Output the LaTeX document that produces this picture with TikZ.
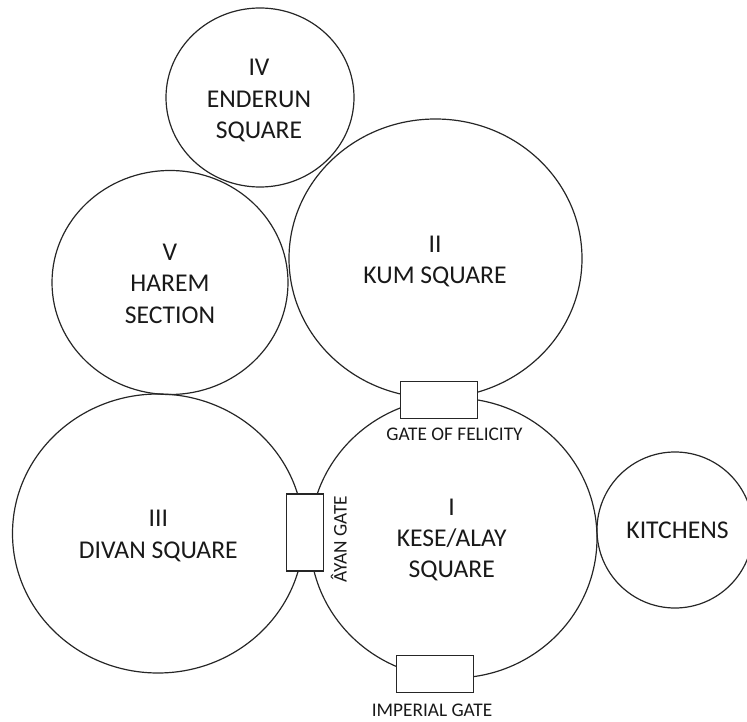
\documentclass[tikz,border=0pt]{standalone}
\usepackage{fontspec}
\setmainfont{Carlito}
\usetikzlibrary{shapes.geometric}
\begin{document}
\begin{tikzpicture}[x=1pt,y=-1pt,
  court/.style={ellipse,draw=black!85,line width=1.2pt,inner sep=0pt},
  courttext/.style={align=center,inner sep=0pt,text=black!90,font=\fontsize{25.6}{31.3}\selectfont},
  gatebox/.style={rectangle,draw=black!85,fill=white,line width=1.2pt,inner sep=0pt},
  gatetext/.style={inner sep=0pt,text=black!90,font=\fontsize{19.3}{22}\selectfont}]
\useasboundingbox (0,0) rectangle (747,722);
% courts
\node[court,minimum width=188pt,minimum height=179pt] (iv) at (260,97.5) {};
\node[court,minimum width=293pt,minimum height=279pt] (ii) at (435.5,258.5) {};
\node[court,minimum width=236pt,minimum height=224pt] (v) at (170,282.5) {};
\node[court,minimum width=291pt,minimum height=279pt] (iii) at (158,533.5) {};
\node[court,minimum width=287pt,minimum height=280pt] (i) at (453.5,538) {};
\node[court,minimum width=156pt,minimum height=156pt] (kit) at (675,530) {};
% labels
\node[courttext] (ivt) at (259,100.5) {IV\\ENDERUN\\SQUARE};
\node[courttext] (iit) at (435,261.5) {II\\KUM SQUARE};
\node[courttext] (vt) at (170,283.8) {V\\HAREM\\SECTION};
\node[courttext] (iiit) at (158.3,536) {III\\DIVAN SQUARE};
\node[courttext] (it) at (451.7,540) {I\\KESE/ALAY\\SQUARE};
\node[courttext] (kitt) at (677.5,530.5) {KITCHENS};
% gates
\node[gatebox,minimum width=76.6pt,minimum height=37pt] (felicity) at (439,400) {};
\node[gatebox,minimum width=36.6pt,minimum height=77pt] (ayan) at (305,532.5) {};
\node[gatebox,minimum width=76.6pt,minimum height=37.6pt] (imperial) at (435,674) {};
\node[gatetext,anchor=base] (felt) at (454.5,440) {GATE OF FELICITY};
\node[gatetext,anchor=base] (impt) at (432,716.7) {IMPERIAL GATE};
\node[gatetext,anchor=base,rotate=90] (ayant) at (346.7,539) {ÂYAN GATE};
\end{tikzpicture}
\end{document}
